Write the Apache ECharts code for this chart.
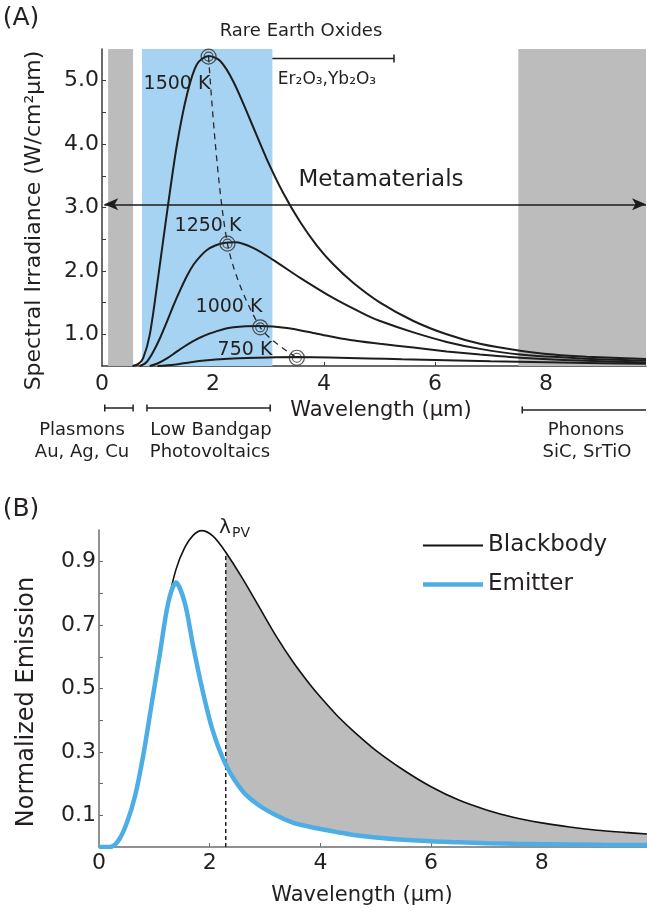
<!DOCTYPE html>
<html>
<head>
<meta charset="utf-8">
<script src="https://cdn.jsdelivr.net/npm/echarts@6/dist/echarts.min.js"></script>
<style>
  html, body { margin: 0; padding: 0; background: #fff; }
  #chart { width: 647px; height: 917px; }
</style>
</head>
<body>
<div id="chart"></div>
<script>
// ---------- Panel A: blackbody spectral irradiance (W/cm²µm) vs wavelength (µm) ----------
const wl1500  = [0.55, 0.65, 0.74, 0.86, 1.01, 1.19, 1.35, 1.53, 1.71, 1.92, 2.13, 2.37, 2.67, 2.97, 3.27, 3.57, 3.87, 4.17, 4.53, 5.01, 5.61, 6.21, 6.81, 7.53, 8.13, 8.73, 9.8];
const irr1500 = [0.50, 0.53, 0.62, 0.99, 1.89, 3.04, 3.99, 4.78, 5.26, 5.39, 5.31, 4.98, 4.38, 3.76, 3.22, 2.77, 2.40, 2.10, 1.81, 1.50, 1.21, 1.00, 0.85, 0.74, 0.68, 0.645, 0.61];

const wl1250  = [0.68, 0.80, 0.92, 1.05, 1.17, 1.29, 1.41, 1.53, 1.65, 1.77, 1.89, 2.04, 2.19, 2.40, 2.73, 3.09, 3.57, 4.17, 4.77, 5.01, 5.61, 6.21, 6.81, 7.53, 8.61, 9.8];
const irr1250 = [0.50, 0.56, 0.72, 0.95, 1.20, 1.46, 1.70, 1.92, 2.10, 2.23, 2.33, 2.40, 2.44, 2.45, 2.36, 2.17, 1.89, 1.57, 1.30, 1.21, 1.03, 0.88, 0.77, 0.68, 0.62, 0.585];

const wl1000  = [0.86, 1.00, 1.17, 1.32, 1.47, 1.62, 1.77, 2.07, 2.37, 2.85, 3.33, 3.87, 4.47, 5.01, 5.61, 6.21, 6.81, 7.53, 8.61, 9.8];
const irr1000 = [0.50, 0.54, 0.62, 0.71, 0.80, 0.88, 0.95, 1.05, 1.11, 1.13, 1.10, 1.01, 0.91, 0.85, 0.79, 0.73, 0.68, 0.63, 0.585, 0.555];

const wl750   = [1.00, 1.30, 1.60, 1.90, 2.20, 2.60, 3.00, 3.50, 4.10, 4.80, 5.40, 6.20, 7.00, 8.00, 9.00, 9.8];
const irr750  = [0.50, 0.52, 0.56, 0.59, 0.61, 0.625, 0.635, 0.64, 0.635, 0.62, 0.605, 0.59, 0.575, 0.56, 0.545, 0.535];

// peak positions (Wien shift) and their temperatures
const peakWl  = [1.92, 2.26, 2.85, 3.51];
const peakIrr = [5.38, 2.43, 1.11, 0.63];
const tempLabels = ['1500 K', '1250 K', '1000 K', '750 K'];

const xLabelsA = [0, 2, 4, 6, 8];
const xTicksA  = [2, 4, 6, 8];
const yLabelsA = [1, 2, 3, 4, 5];
const yTicksA  = [1, 1.5, 2, 2.5, 3, 3.5, 4, 4.5, 5];

// material-class wavelength ranges (µm)
const plasmonBand = [0.11, 0.56];
const pvBand      = [0.72, 3.07];
const phononBand  = [7.5, 9.8];
const plasmonSpan = [0.05, 0.56];
const pvSpan      = [0.81, 3.03];
const phononSpan  = [7.57, 9.8];
const rareEarthSpan  = [0.87, 5.26];
const rareEarthLevel = 5.35;
const metaSpan  = [0.04, 9.8];
const metaLevel = 3.05;

// ---------- Panel B: normalized emission, blackbody vs selective emitter ----------
const wlB       = [0, 0.2, 0.35, 0.5, 0.65, 0.8, 0.95, 1.1, 1.25, 1.39, 1.55, 1.7, 1.85, 2.05, 2.29, 2.6, 2.9, 3.2, 3.5, 3.8, 4.0, 4.3, 4.6, 5.0, 5.5, 6.0, 6.5, 7.0, 7.5, 8.0, 8.5, 9.0, 9.5, 9.9];
const blackbody = [0, 0, 0.02, 0.075, 0.16, 0.29, 0.45, 0.61, 0.77, 0.875, 0.945, 0.983, 0.998, 0.982, 0.93, 0.845, 0.755, 0.665, 0.585, 0.515, 0.473, 0.415, 0.365, 0.305, 0.243, 0.19, 0.148, 0.117, 0.093, 0.076, 0.063, 0.053, 0.046, 0.041];
const emitter   = [0, 0, 0.02, 0.075, 0.16, 0.29, 0.45, 0.61, 0.77, 0.834, 0.77, 0.635, 0.51, 0.37, 0.26, 0.175, 0.13, 0.10, 0.077, 0.064, 0.057, 0.047, 0.038, 0.03, 0.023, 0.018, 0.015, 0.012, 0.010, 0.009, 0.008, 0.007, 0.006, 0.006];
const lambdaPV  = 2.29;

const xLabelsB = [0, 2, 4, 6, 8];
const xTicksB  = [2, 4, 6, 8];
const yLabelsB = [0.1, 0.3, 0.5, 0.7, 0.9];
const yTicksB  = [0.1, 0.2, 0.3, 0.4, 0.5, 0.6, 0.7, 0.8, 0.9];

// ---------- styling ----------
const FONT = 'DejaVu Sans';
const INK = '#231f20';
const AXIS_A = '#3a3a3a';
const AXIS_B = '#6d6e71';
const GREY = '#bcbcbc';
const BLUE_BAND = '#a6d3f1';
const BLUE = '#4daee6';

const pts = (xs, ys) => xs.map((x, i) => [x, ys[i]]);
const pvIdx = wlB.indexOf(lambdaPV);

function curve(name, xs, ys) {
  return {
    name, type: 'line', xAxisIndex: 0, yAxisIndex: 0, z: 3,
    data: pts(xs, ys), smooth: 0.3, showSymbol: false, symbol: 'none',
    lineStyle: { color: '#1d1d1d', width: 2 }
  };
}

function axisCommon(color) {
  return {
    axisLine: { show: true, onZero: false, lineStyle: { color, width: 1.5 } },
    splitLine: { show: false }
  };
}

const chart = echarts.init(document.getElementById('chart'), null, { renderer: 'canvas' });

const option = {
  animation: false,
  backgroundColor: '#fff',
  textStyle: { fontFamily: FONT, color: INK },
  grid: [
    { left: 102, top: 49, width: 544, height: 317 },
    { left: 99, top: 530, width: 548, height: 317 }
  ],
  xAxis: [
    Object.assign(axisCommon(AXIS_A), {
      gridIndex: 0, type: 'value', min: 0, max: 9.8,
      axisTick: { show: true, inside: true, length: 4, customValues: xTicksA, lineStyle: { color: AXIS_A } },
      axisLabel: { customValues: xLabelsA, fontSize: 22, color: INK, margin: 7, fontFamily: FONT },
      name: 'Wavelength (µm)', nameLocation: 'middle', nameGap: 34,
      nameTextStyle: { fontSize: 21, color: INK, fontFamily: FONT, padding: [0, 0, 0, 14] }
    }),
    Object.assign(axisCommon(AXIS_B), {
      gridIndex: 1, type: 'value', min: 0, max: 9.9,
      axisTick: { show: true, inside: true, length: 4, customValues: xTicksB, lineStyle: { color: AXIS_B } },
      axisLabel: { customValues: xLabelsB, fontSize: 22, color: INK, margin: 5, fontFamily: FONT },
      name: 'Wavelength (µm)', nameLocation: 'middle', nameGap: 38,
      nameTextStyle: { fontSize: 21, color: INK, fontFamily: FONT, padding: [0, 22, 0, 0] }
    })
  ],
  yAxis: [
    Object.assign(axisCommon(AXIS_A), {
      gridIndex: 0, type: 'value', min: 0.5, max: 5.5,
      axisTick: { show: true, inside: true, length: 4, customValues: yTicksA, lineStyle: { color: AXIS_A } },
      axisLabel: { customValues: yLabelsA, formatter: v => v.toFixed(1), fontSize: 22, color: INK, margin: 3, fontFamily: FONT },
      name: 'Spectral Irradiance (W/cm²µm)', nameLocation: 'middle', nameGap: 57,
      nameTextStyle: { fontSize: 22, color: INK, fontFamily: FONT, padding: [0, 26, 0, 0] }
    }),
    Object.assign(axisCommon(AXIS_B), {
      gridIndex: 1, type: 'value', min: 0, max: 1,
      axisTick: { show: true, inside: true, length: 4, customValues: yTicksB, lineStyle: { color: AXIS_B } },
      axisLabel: { customValues: yLabelsB, formatter: v => v.toFixed(1), fontSize: 22, color: INK, margin: 3, fontFamily: FONT },
      name: 'Normalized Emission', nameLocation: 'middle', nameGap: 60,
      nameTextStyle: { fontSize: 24, color: INK, fontFamily: FONT, padding: [0, 27, 0, 0] }
    })
  ],
  legend: {
    orient: 'vertical', left: 418, top: 529,
    itemWidth: 60, itemHeight: 14, itemGap: 16, itemTextGap: 10,
    symbolKeepAspect: true,
    textStyle: { fontSize: 23, color: INK, fontFamily: FONT },
    data: [
      { name: 'Blackbody', icon: 'path://M0,0H60V2H0Z' },
      { name: 'Emitter', icon: 'path://M0,0H60V4.5H0Z' }
    ]
  },
  series: [
    // spectral bands behind the curves
    {
      name: 'bands', type: 'line', xAxisIndex: 0, yAxisIndex: 0, z: 1, silent: true,
      data: [[0, 0.5]], symbol: 'none', lineStyle: { opacity: 0 },
      markArea: {
        silent: true,
        data: [
          [{ xAxis: plasmonBand[0], itemStyle: { color: GREY } }, { xAxis: plasmonBand[1] }],
          [{ xAxis: pvBand[0], itemStyle: { color: BLUE_BAND } }, { xAxis: pvBand[1] }],
          [{ xAxis: phononBand[0], itemStyle: { color: GREY } }, { xAxis: phononBand[1] }]
        ]
      }
    },
    curve('1500 K', wl1500, irr1500),
    curve('1250 K', wl1250, irr1250),
    curve('1000 K', wl1000, irr1000),
    curve('750 K', wl750, irr750),
    // dashed locus through the peaks
    {
      name: 'peak locus', type: 'line', xAxisIndex: 0, yAxisIndex: 0, z: 4,
      data: pts(peakWl, peakIrr), smooth: 0.3, symbol: 'none',
      lineStyle: { color: '#2a2a2a', width: 1.3, type: [6, 5] }
    },
    {
      name: 'peak ring', type: 'scatter', xAxisIndex: 0, yAxisIndex: 0, z: 5,
      data: pts(peakWl, peakIrr), symbol: 'circle', symbolSize: 15,
      itemStyle: { color: 'rgba(0,0,0,0)', borderColor: '#2a2a2a', borderWidth: 1.2 }
    },
    {
      name: 'peak ring inner', type: 'scatter', xAxisIndex: 0, yAxisIndex: 0, z: 5,
      data: pts(peakWl, peakIrr), symbol: 'circle', symbolSize: 9,
      itemStyle: { color: 'rgba(0,0,0,0)', borderColor: '#2a2a2a', borderWidth: 1.1 }
    },
    // metamaterials: double-headed arrow across the whole range
    {
      name: 'metamaterials', type: 'line', xAxisIndex: 0, yAxisIndex: 0, z: 4, silent: true,
      data: [[0, 0.5]], symbol: 'none', lineStyle: { opacity: 0 },
      markLine: {
        silent: true, symbol: ['arrow', 'arrow'], symbolSize: [9, 14],
        label: { show: false },
        lineStyle: { color: '#1d1d1d', width: 1.6, type: 'solid' },
        data: [[{ coord: [metaSpan[0], metaLevel] }, { coord: [metaSpan[1], metaLevel] }]]
      }
    },

    // ---- panel B ----
    // emission lost beyond the bandgap: region between blackbody and emitter for λ > λPV
    {
      name: 'sub-bandgap loss', type: 'custom', xAxisIndex: 1, yAxisIndex: 1, z: 2, silent: true,
      data: [[lambdaPV, 0]],
      renderItem: (params, api) => {
        const xs = wlB.slice(pvIdx);
        const upper = xs.map((x, i) => api.coord([x, blackbody[pvIdx + i]]));
        const lower = xs.map((x, i) => api.coord([x, emitter[pvIdx + i]])).reverse();
        return { type: 'polygon', shape: { points: upper.concat(lower) }, style: { fill: GREY } };
      }
    },
    {
      name: 'Blackbody', type: 'line', xAxisIndex: 1, yAxisIndex: 1, z: 4,
      data: pts(wlB, blackbody), smooth: 0.3, symbol: 'none',
      lineStyle: { color: '#111', width: 1.6 }, itemStyle: { color: '#111' }
    },
    {
      name: 'Emitter', type: 'line', xAxisIndex: 1, yAxisIndex: 1, z: 5,
      data: pts(wlB, emitter), smooth: 0.3, symbol: 'none',
      lineStyle: { color: BLUE, width: 4.5 }, itemStyle: { color: BLUE }
    },
    {
      name: 'lambda PV', type: 'line', xAxisIndex: 1, yAxisIndex: 1, z: 3,
      data: [[lambdaPV, 0], [lambdaPV, blackbody[pvIdx]]], symbol: 'none',
      lineStyle: { color: '#222', width: 1.5, type: [4, 3] }
    }
  ]
};

chart.setOption(option);

// ---------- annotations placed from axis coordinates ----------
const toPx = (g, x, y) => chart.convertToPixel({ xAxisIndex: g, yAxisIndex: g }, [x, y]);
const LINE = { stroke: INK, lineWidth: 1.5 };

function bracket(span, yPix, cap, rightCap) {
  const a = toPx(0, span[0], 1)[0];
  const b = toPx(0, span[1], 1)[0];
  const out = [
    { type: 'line', shape: { x1: a, y1: yPix, x2: b, y2: yPix }, style: LINE },
    { type: 'line', shape: { x1: a, y1: yPix - cap, x2: a, y2: yPix + cap }, style: LINE }
  ];
  if (rightCap) out.push({ type: 'line', shape: { x1: b, y1: yPix - cap, x2: b, y2: yPix + cap }, style: LINE });
  return out;
}

function label(text, x, y, size, extra) {
  return {
    type: 'text', x, y, z: 10,
    style: Object.assign({
      text, fontSize: size, fontFamily: FONT, fill: INK,
      align: 'center', verticalAlign: 'middle',
      textAlign: 'center', textVerticalAlign: 'middle'
    }, extra || {})
  };
}

const rareY = toPx(0, 1, rareEarthLevel)[1];
const graphics = [].concat(
  bracket(rareEarthSpan, rareY, 4, true),
  bracket(plasmonSpan, 408, 3.5, true),
  bracket(pvSpan, 408, 3.5, true),
  bracket(phononSpan, 410, 3.5, false),
  [
    label('(A)', 21, 18, 25),
    label('(B)', 21, 509, 25),
    label('Rare Earth Oxides', 301, 31, 18),
    label('Er\u2082O\u2083,Yb\u2082O\u2083', 327, 80, 17),
    label('Metamaterials', 381, 180, 23),
    label(tempLabels[0], 177, 84, 19),
    label(tempLabels[1], 208, 226, 19),
    label(tempLabels[2], 229, 307, 19),
    label(tempLabels[3], 245, 350, 19),
    label('Plasmons', 82, 430, 18),
    label('Au, Ag, Cu', 82, 452, 18),
    label('Low Bandgap', 211, 430, 18),
    label('Photovoltaics', 210, 452, 18),
    label('Phonons', 586, 430, 18),
    label('SiC, SrTiO', 587, 452, 18),
    label('\u03bb', 219, 528, 20, { align: 'left', textAlign: 'left' }),
    label('PV', 232, 533, 14, { align: 'left', textAlign: 'left' })
  ]
);

chart.setOption({ graphic: graphics });
</script>
</body>
</html>
